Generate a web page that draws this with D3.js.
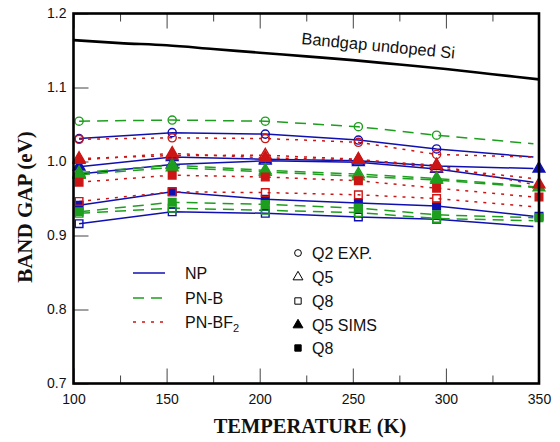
<!DOCTYPE html>
<html>
<head>
<meta charset="utf-8">
<script src="https://cdn.jsdelivr.net/npm/d3@7"></script>
<style>
  html, body { margin: 0; padding: 0; background: #fff; }
  svg { display: block; }
</style>
</head>
<body>
<svg id="chart" width="560" height="442"></svg>
<script>
// ---------------- DATA ----------------
const temps = [103, 153, 203, 253, 295, 350];

// Bandgap of undoped Si
const siTemps = [100, 125, 150, 175, 200, 225, 250, 275, 300, 325, 350];
const siGap   = [1.164, 1.160, 1.157, 1.152, 1.147, 1.142, 1.137, 1.131, 1.125, 1.118, 1.111];

// NP (blue, solid)
const npQ2     = [1.031, 1.039, 1.037, 1.029, 1.017, 1.006];
const npQ5     = [0.983, 0.996, 1.001, 0.999, 0.990, 0.972];
const npQ8     = [0.916, 0.932, 0.930, 0.925, 0.922, 0.912];
const npQ5Sims = [0.993, 1.006, 1.003, 1.001, 0.994, 0.9905];
const npQ8Sims = [0.941, 0.959, 0.949, 0.944, 0.940, 0.926];

// PN-B (green, dashed)
const pnbQ2     = [1.0545, 1.056, 1.0545, 1.047, 1.0355, 1.024];
const pnbQ5     = [0.985, 0.995, 0.988, 0.983, 0.977, 0.966];
const pnbQ8     = [0.930, 0.937, 0.934, 0.931, 0.923, 0.920];
const pnbQ5Sims = [0.982, 0.992, 0.986, 0.980, 0.975, 0.965];
const pnbQ8Sims = [0.932, 0.945, 0.942, 0.937, 0.928, 0.924];

// PN-BF2 (red, dotted)
const pnbf2Q2     = [1.030, 1.032, 1.031, 1.026, 1.0095, 1.006];
const pnbf2Q5     = [1.004, 1.008, 1.0085, 1.003, 0.991, 0.977];
const pnbf2Q8     = [0.946, 0.959, 0.958, 0.955, 0.950, 0.939];
const pnbf2Q5Sims = [1.002, 1.011, 1.005, 1.002, 0.995, 0.969];
const pnbf2Q8Sims = [0.972, 0.9815, 0.979, 0.974, 0.964, 0.952];

const xTicks = [100, 150, 200, 250, 300, 350];
const xMinorTicks = [125, 175, 225, 275, 325];
const yTicks = [0.7, 0.8, 0.9, 1.0, 1.1, 1.2];

const dopantNames = ["NP", "PN-B", "PN-BF2"];
const markerNames = ["Q2 EXP.", "Q5", "Q8", "Q5 SIMS", "Q8"];

// ---------------- STYLE ----------------
const colors = { "NP": "#1010b0", "PN-B": "#1e9e1e", "PN-BF2": "#cc1515" };
const dashes = { "NP": null, "PN-B": "11,7", "PN-BF2": "3,6" };
const shapeOf = { "Q2": d3.symbolCircle, "Q5": d3.symbolTriangle, "Q8": d3.symbolSquare };
const sizeOf = { "Q2": 52, "Q5": 60, "Q8": 58 };

const series = [
  { dop: "NP", q: "Q2", filled: false, v: npQ2 },
  { dop: "NP", q: "Q5", filled: false, v: npQ5 },
  { dop: "NP", q: "Q8", filled: false, v: npQ8 },
  { dop: "NP", q: "Q5", filled: true,  v: npQ5Sims },
  { dop: "NP", q: "Q8", filled: true,  v: npQ8Sims },
  { dop: "PN-B", q: "Q2", filled: false, v: pnbQ2 },
  { dop: "PN-B", q: "Q5", filled: false, v: pnbQ5 },
  { dop: "PN-B", q: "Q8", filled: false, v: pnbQ8 },
  { dop: "PN-B", q: "Q5", filled: true,  v: pnbQ5Sims },
  { dop: "PN-B", q: "Q8", filled: true,  v: pnbQ8Sims },
  { dop: "PN-BF2", q: "Q2", filled: false, v: pnbf2Q2 },
  { dop: "PN-BF2", q: "Q5", filled: false, v: pnbf2Q5 },
  { dop: "PN-BF2", q: "Q8", filled: false, v: pnbf2Q8 },
  { dop: "PN-BF2", q: "Q5", filled: true,  v: pnbf2Q5Sims },
  { dop: "PN-BF2", q: "Q8", filled: true,  v: pnbf2Q8Sims }
];

// ---------------- LAYOUT ----------------
const L = 73.5, R = 539, T = 13.5, B = 383.5;
const svg = d3.select("#chart");
const x = d3.scaleLinear().domain([100, 350]).range([L, R]);
const y = d3.scaleLinear().domain([0.7, 1.2]).range([B, T]);

const tickFont = "'Liberation Sans', Arial, sans-serif";

// clip
svg.append("defs").append("clipPath").attr("id", "clip")
  .append("rect").attr("x", L).attr("y", T).attr("width", R - L).attr("height", B - T);

// axes
const gx = svg.append("g").attr("transform", `translate(0,${B})`)
  .call(d3.axisBottom(x).tickValues(xTicks).tickSize(-15).tickPadding(11).tickFormat(d3.format("d")));
const gxm = svg.append("g").attr("transform", `translate(0,${B})`)
  .call(d3.axisBottom(x).tickValues(xMinorTicks).tickSize(-8).tickFormat(""));
const gt = svg.append("g").attr("transform", `translate(0,${T})`)
  .call(d3.axisTop(x).tickValues(xTicks).tickSize(-15).tickFormat(""));
const gtm = svg.append("g").attr("transform", `translate(0,${T})`)
  .call(d3.axisTop(x).tickValues(xMinorTicks).tickSize(-8).tickFormat(""));
const gy = svg.append("g").attr("transform", `translate(${L},0)`)
  .call(d3.axisLeft(y).tickValues(yTicks).tickSize(-15).tickPadding(7).tickFormat(d3.format(".1f")));

[gx, gxm, gt, gtm, gy].forEach(g => {
  g.select(".domain").remove();
  g.selectAll(".tick line").attr("stroke", "#444").attr("stroke-width", 1);
  g.selectAll("text").attr("font-family", tickFont).attr("font-size", 14).attr("fill", "#111");
});

// Undoped Si bandgap line
const siLine = d3.line().x((d, i) => x(siTemps[i])).y(d => y(d)).curve(d3.curveMonotoneX);
svg.append("path").datum(siGap).attr("d", siLine)
  .attr("fill", "none").attr("stroke", "#000").attr("stroke-width", 2.6)
  .attr("clip-path", "url(#clip)");

svg.append("text")
  .attr("transform", `translate(301,44) rotate(5.4)`)
  .attr("font-family", tickFont).attr("font-size", 16.5).attr("fill", "#111")
  .text("Bandgap undoped Si");

// series lines (end slightly before the right frame)
const lineLayer = svg.append("g").attr("clip-path", "url(#clip)");
const lineGen = d3.line().x((d, i) => x(i === temps.length - 1 ? temps[i] - 3 : temps[i])).y(d => y(d));
series.forEach(s => {
  lineLayer.append("path").datum(s.v).attr("d", lineGen)
    .attr("fill", "none").attr("stroke", colors[s.dop]).attr("stroke-width", 1.5)
    .attr("stroke-dasharray", dashes[s.dop]);
});

// markers (open markers: first five temperatures; SIMS markers: all)
const markLayer = svg.append("g");
series.forEach(s => {
  const n = s.filled ? temps.length : temps.length - 1;
  const pts = s.v.slice(0, n).map((v, i) => [temps[i], v]);
  markLayer.selectAll(null).data(pts).enter().append("path")
    .attr("transform", d => `translate(${x(d[0])},${y(d[1])})`)
    .attr("d", d3.symbol().type(shapeOf[s.q]).size(sizeOf[s.q]))
    .attr("fill", s.filled ? colors[s.dop] : "none")
    .attr("stroke", colors[s.dop]).attr("stroke-width", 1.4);
});

// frame
svg.append("rect").attr("x", L).attr("y", T).attr("width", R - L).attr("height", B - T)
  .attr("fill", "none").attr("stroke", "#000").attr("stroke-width", 2.6);

// axis titles
const titleFont = "'Liberation Serif', 'Times New Roman', serif";
svg.append("text").attr("x", 310).attr("y", 433).attr("text-anchor", "middle")
  .attr("font-family", titleFont).attr("font-weight", "bold").attr("font-size", 20.5).attr("fill", "#111")
  .text("TEMPERATURE (K)");
svg.append("text").attr("transform", "translate(32,207) rotate(-90)").attr("text-anchor", "middle")
  .attr("font-family", titleFont).attr("font-weight", "bold").attr("font-size", 21).attr("fill", "#111")
  .text("BAND GAP (eV)");

// legend: dopants
const legY = [273, 298, 322];
dopantNames.forEach((n, i) => {
  svg.append("line").attr("x1", 133).attr("x2", 165).attr("y1", legY[i]).attr("y2", legY[i])
    .attr("stroke", colors[n]).attr("stroke-width", 1.5).attr("stroke-dasharray", dashes[n]);
  const t = svg.append("text").attr("x", 185).attr("y", legY[i] + 6)
    .attr("font-family", tickFont).attr("font-size", 16).attr("fill", "#111");
  if (n === "PN-BF2") {
    t.append("tspan").text("PN-BF");
    t.append("tspan").attr("font-size", 11).attr("dy", 4).text("2");
  } else {
    t.text(n);
  }
});

// legend: markers
const mLegY = [253, 277, 301, 325, 348];
const mLegShapes = [["Q2", false], ["Q5", false], ["Q8", false], ["Q5", true], ["Q8", true]];
markerNames.forEach((n, i) => {
  const [q, filled] = mLegShapes[i];
  svg.append("path").attr("transform", `translate(298,${mLegY[i]})`)
    .attr("d", d3.symbol().type(shapeOf[q]).size(sizeOf[q] * 0.7))
    .attr("fill", filled ? "#000" : "none").attr("stroke", "#000").attr("stroke-width", 1);
  svg.append("text").attr("x", 312).attr("y", mLegY[i] + 6)
    .attr("font-family", tickFont).attr("font-size", 16).attr("fill", "#111").text(n);
});
</script>
</body>
</html>
